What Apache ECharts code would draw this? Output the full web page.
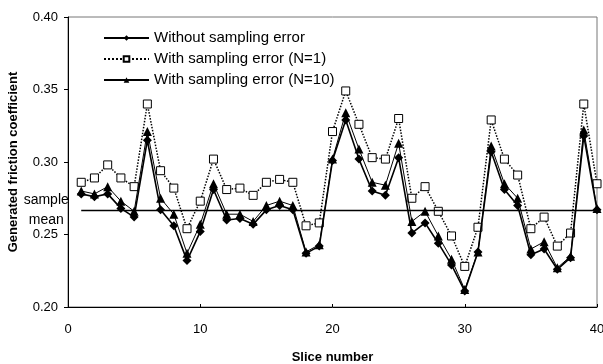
<!DOCTYPE html>
<html><head><meta charset="utf-8">
<script src="https://cdn.jsdelivr.net/npm/echarts@6/dist/echarts.min.js"></script>
<style>html,body{margin:0;padding:0;background:#fff}#c{width:603px;height:364px}</style>
</head><body><div id="c"></div>
<script>
const slices = Array.from({length:40},(_,i)=>i+1);
const withoutError = [0.278,0.276,0.278,0.268,0.262,0.315,0.267,0.256,0.232,0.252,0.281,0.260,0.261,0.257,0.267,0.270,0.267,0.237,0.242,0.301,0.329,0.302,0.280,0.277,0.303,0.251,0.258,0.244,0.229,0.211,0.238,0.307,0.281,0.270,0.236,0.240,0.226,0.234,0.318,0.267];
const withErrorN1 = [0.286,0.289,0.298,0.289,0.283,0.340,0.294,0.282,0.254,0.273,0.302,0.281,0.282,0.277,0.286,0.288,0.286,0.256,0.258,0.321,0.349,0.326,0.303,0.302,0.330,0.275,0.283,0.266,0.249,0.228,0.255,0.329,0.302,0.291,0.254,0.262,0.242,0.251,0.340,0.285];
const withErrorN10 = [0.280,0.278,0.283,0.273,0.266,0.321,0.275,0.264,0.237,0.257,0.285,0.264,0.264,0.259,0.270,0.273,0.270,0.238,0.243,0.302,0.334,0.309,0.286,0.284,0.313,0.259,0.266,0.249,0.233,0.212,0.238,0.311,0.285,0.275,0.240,0.245,0.227,0.235,0.322,0.268];
const sampleMean = 0.267;
const meanSpan = [1, 40];
const seriesNames = ['Without sampling error','With sampling error (N=1)','With sampling error (N=10)'];

const pairs = arr => arr.map((v,i)=>[slices[i], v]);
const font = 'Arial, "Liberation Sans", sans-serif';
const chart = echarts.init(document.getElementById('c'), null, {renderer:'canvas'});
chart.setOption({
  animation:false,
  backgroundColor:'#fff',
  grid:{left:68,right:6,top:17,bottom:57,show:true,borderColor:'#777',borderWidth:1,containLabel:false,outerBoundsMode:'none'},
  legend:{
    orient:'vertical', left:98, top:24, itemWidth:45, itemHeight:7, itemGap:3,
    textStyle:{fontFamily:font,fontSize:15,color:'#000',lineHeight:18},
    data:seriesNames, inactiveColor:'#000', selectedMode:false
  },
  xAxis:{
    type:'value', min:0, max:40, interval:10,
    name:'Slice number', nameLocation:'middle', nameGap:44,
    nameTextStyle:{fontFamily:font,fontSize:13,fontWeight:'bold',color:'#000'},
    axisLine:{lineStyle:{color:'#000',width:1}},
    axisTick:{show:true,inside:true,length:3,lineStyle:{color:'#000'}},
    axisLabel:{fontFamily:font,fontSize:13,color:'#000',margin:16},
    splitLine:{show:false}
  },
  yAxis:{
    type:'value', min:0.2, max:0.4, interval:0.05,
    name:'Generated friction coefficient', nameLocation:'middle', nameGap:48,
    nameTextStyle:{fontFamily:font,fontSize:13,fontWeight:'bold',color:'#000'},
    axisLine:{show:true,lineStyle:{color:'#000',width:1}},
    axisTick:{show:true,length:4,lineStyle:{color:'#000'}},
    axisLabel:{fontFamily:font,fontSize:13,color:'#000',margin:10,formatter:v=>v.toFixed(2)},
    splitLine:{show:false}
  },
  series:[
    {name:seriesNames[0], type:'line', data:pairs(withoutError), symbol:'diamond', symbolSize:9,
     itemStyle:{color:'#000'}, lineStyle:{color:'#000',width:1.6}, z:3,
     markLine:{silent:true, symbol:'none', lineStyle:{color:'#000',width:1.3,type:'solid'},
       label:{show:true,position:'start',distance:35,formatter:'sample\nmean',fontFamily:font,fontSize:14,color:'#000',lineHeight:20,align:'center'},
       data:[[{coord:[meanSpan[0],sampleMean]},{coord:[meanSpan[1],sampleMean]}]]}},
    {name:seriesNames[1], type:'line', data:pairs(withErrorN1), symbol:'rect', symbolSize:8,
     itemStyle:{color:'#fff',borderColor:'#000',borderWidth:1}, lineStyle:{color:'#000',width:1.5,type:'dotted'}, z:2},
    {name:seriesNames[2], type:'line', data:pairs(withErrorN10), symbol:'triangle', symbolSize:9,
     itemStyle:{color:'#000'}, lineStyle:{color:'#000',width:1}, z:4}
  ]
});
</script></body></html>
